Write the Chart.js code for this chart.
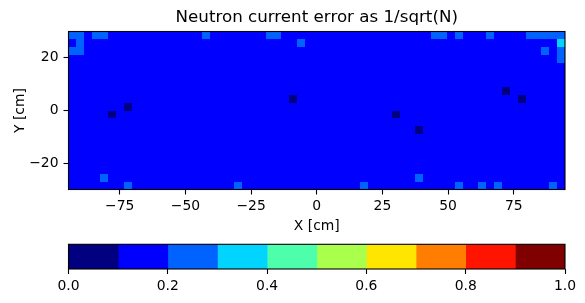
<!DOCTYPE html>
<html>
<head>
<meta charset="utf-8">
<script src="https://cdn.jsdelivr.net/npm/chart.js@4/dist/chart.umd.min.js"></script>
<style>
html,body{margin:0;padding:0;background:#ffffff;}
#wrap{position:relative;width:585px;height:303px;overflow:hidden;background:#ffffff;}
#main{position:absolute;left:0;top:0;}
#cbar{position:absolute;left:0;top:235px;}
</style>
</head>
<body>
<div id="wrap">
<canvas id="main" width="585" height="240"></canvas>
<canvas id="cbar" width="585" height="68"></canvas>
</div>
<script>
// ---------------- data ----------------
const chartTitle = 'Neutron current error as 1/sqrt(N)';
const xLabel = 'X [cm]';
const yLabel = 'Y [cm]';
// bin edges (cm)
const xRange = [-94.5, 94.5];
const yRange = [-30, 30];
const binSize = 3;
const xTicks = [-75, -50, -25, 0, 25, 50, 75];
const yTicks = [-20, 0, 20];
const colorbarTicks = [0.0, 0.2, 0.4, 0.6, 0.8, 1.0];
const colorbarEdges = [0.0, 0.1, 0.2, 0.3, 0.4, 0.5, 0.6, 0.7, 0.8, 0.9, 1.0];
const jetColors = ['#000080', '#0000ff', '#0063ff', '#00d4ff', '#4dffaa',
                   '#aaff4d', '#ffe600', '#ff7d00', '#ff1400', '#800000'];
// error level per cell (digit = colour bin: 0 -> 0.0-0.1, 1 -> 0.1-0.2, ...)
// first string = top row (y 27..30), 63 columns from x = -94.5
const errorRows = [
  "2212211111 1111111211 1111122111 1111111111 1111112212 1112111122 222",
  "1211111111 1111111111 1111111112 1111111111 1111111111 1111111111 113",
  "2211111111 1111111111 1111111111 1111111111 1111111111 1111111111 212",
  "1111111111 1111111111 1111111111 1111111111 1111111111 1111111111 112",
  "1111111111 1111111111 1111111111 1111111111 1111111111 1111111111 111",
  "1111111111 1111111111 1111111111 1111111111 1111111111 1111111111 111",
  "1111111111 1111111111 1111111111 1111111111 1111111111 1111111111 111",
  "1111111111 1111111111 1111111111 1111111111 1111111111 1111101111 111",
  "1111111111 1111111111 1111111101 1111111111 1111111111 1111111011 111",
  "1111111011 1111111111 1111111111 1111111111 1111111111 1111111111 111",
  "1111101111 1111111111 1111111111 1111111111 1011111111 1111111111 111",
  "1111111111 1111111111 1111111111 1111111111 1111111111 1111111111 111",
  "1111111111 1111111111 1111111111 1111111111 1111011111 1111111111 111",
  "1111111111 1111111111 1111111111 1111111111 1111111111 1111111111 111",
  "1111111111 1111111111 1111111111 1111111111 1111111111 1111111111 111",
  "1111111111 1111111111 1111111111 1111111111 1111111111 1111111111 111",
  "1111111111 1111111111 1111111111 1111111111 1111111111 1111111111 111",
  "1111111111 1111111111 1111111111 1111111111 1111111111 1111111111 111",
  "1111211111 1111111111 1111111111 1111111111 1111211111 1111111111 111",
  "1111111211 1111111111 1211111111 1111111211 1111111112 1121211111 121"
];
// representative error value of each colour bin
const levelValues = [0.05, 0.15, 0.25, 0.35];

// ---------------- build cells ----------------
const cells = [];
errorRows.forEach((row, r) => {
  const s = row.replace(/\s+/g, '');
  for (let c = 0; c < s.length; c++) {
    cells.push({
      x: xRange[0] + binSize * (c + 0.5),
      y: yRange[1] - binSize * (r + 0.5),
      v: levelValues[+s[c]]
    });
  }
});

function colorFor(v) {
  let i = Math.floor(v * 10);
  if (i < 0) i = 0; if (i > 9) i = 9;
  return jetColors[i];
}
function fmtMinus(v) {
  return v < 0 ? '\u2212' + Math.abs(v) : String(v);
}

const FONT = 'DejaVu Sans';

const heatmapPlugin = {
  id: 'heatmap',
  beforeDatasetsDraw(chart) {
    const {ctx, chartArea: a} = chart;
    const xs = chart.scales.x, ys = chart.scales.y;
    const half = binSize / 2;
    ctx.save();
    ctx.beginPath();
    ctx.rect(a.left, a.top, a.right - a.left, a.bottom - a.top);
    ctx.clip();
    chart.data.datasets[0].data.forEach(p => {
      const x0 = Math.round(xs.getPixelForValue(p.x - half));
      const x1 = Math.round(xs.getPixelForValue(p.x + half));
      const y0 = Math.round(ys.getPixelForValue(p.y + half));
      const y1 = Math.round(ys.getPixelForValue(p.y - half));
      ctx.fillStyle = colorFor(p.v);
      ctx.fillRect(x0, y0, x1 - x0, y1 - y0);
    });
    ctx.restore();
  }
};

const framePlugin = {
  id: 'frame',
  afterDraw(chart) {
    const {ctx, chartArea: a} = chart;
    ctx.save();
    ctx.strokeStyle = '#000000';
    ctx.lineWidth = 1.1;
    ctx.strokeRect(a.left, a.top, a.right - a.left, a.bottom - a.top);
    ctx.restore();
  }
};

const tickFont = {family: FONT, size: 13.9};

new Chart(document.getElementById('main'), {
  type: 'scatter',
  data: {
    datasets: [{
      data: cells,
      pointRadius: 0,
      pointHoverRadius: 0,
      showLine: false
    }]
  },
  options: {
    responsive: false,
    animation: false,
    events: [],
    layout: {padding: {left: 0, right: 20, top: 0, bottom: 0}},
    plugins: {
      legend: {display: false},
      tooltip: {enabled: false},
      title: {
        display: true,
        fullSize: false,
        text: chartTitle,
        color: '#000000',
        font: {family: FONT, size: 16.7, weight: 'normal', lineHeight: 1.2},
        padding: {top: 7.5, bottom: 3.96}
      }
    },
    scales: {
      x: {
        type: 'linear',
        min: xRange[0],
        max: xRange[1],
        afterBuildTicks: s => { s.ticks = xTicks.map(v => ({value: v})); },
        afterFit: s => { s.height = 50.5; },
        ticks: {
          callback: v => fmtMinus(v),
          color: '#000000',
          font: tickFont,
          padding: 4,
          maxRotation: 0,
          autoSkip: false
        },
        grid: {drawOnChartArea: false, drawTicks: true, tickLength: 5, tickColor: '#000000', tickWidth: 1.1},
        border: {display: false},
        title: {
          display: true, text: xLabel, color: '#000000',
          font: {family: FONT, size: 13.9, lineHeight: 1.2},
          padding: {top: 0, bottom: 5.7}
        }
      },
      y: {
        type: 'linear',
        min: yRange[0],
        max: yRange[1],
        afterBuildTicks: s => { s.ticks = yTicks.map(v => ({value: v})); },
        afterFit: s => { s.width = 68.5; },
        ticks: {
          callback: v => fmtMinus(v),
          color: '#000000',
          font: tickFont,
          padding: 5,
          autoSkip: false
        },
        grid: {drawOnChartArea: false, drawTicks: true, tickLength: 5, tickColor: '#000000', tickWidth: 1.1},
        border: {display: false},
        title: {
          display: true, text: yLabel, color: '#000000',
          font: {family: FONT, size: 13.9, lineHeight: 1.2},
          padding: {top: 11.7, bottom: 0}
        }
      }
    }
  },
  plugins: [heatmapPlugin, framePlugin]
});

// ---------------- colour bar ----------------
new Chart(document.getElementById('cbar'), {
  type: 'bar',
  data: {
    labels: [''],
    datasets: jetColors.map((col, i) => ({
      data: [[colorbarEdges[i], colorbarEdges[i + 1]]],
      backgroundColor: col,
      borderWidth: 0,
      grouped: false,
      barPercentage: 1,
      categoryPercentage: 1
    }))
  },
  options: {
    indexAxis: 'y',
    responsive: false,
    animation: false,
    events: [],
    layout: {padding: {left: 68.5, right: 20, top: 9.3, bottom: 0}},
    plugins: {legend: {display: false}, tooltip: {enabled: false}, title: {display: false}},
    scales: {
      y: {display: false},
      x: {
        type: 'linear',
        min: 0,
        max: 1,
        afterBuildTicks: s => { s.ticks = colorbarTicks.map(v => ({value: v})); },
        afterFit: s => { s.height = 34; },
        ticks: {
          callback: v => Number(v).toFixed(1),
          color: '#000000',
          font: tickFont,
          padding: 4,
          maxRotation: 0,
          autoSkip: false
        },
        grid: {drawOnChartArea: false, drawTicks: true, tickLength: 5, tickColor: '#000000', tickWidth: 1.1},
        border: {display: false}
      }
    }
  },
  plugins: [framePlugin]
});
</script>
</body>
</html>
